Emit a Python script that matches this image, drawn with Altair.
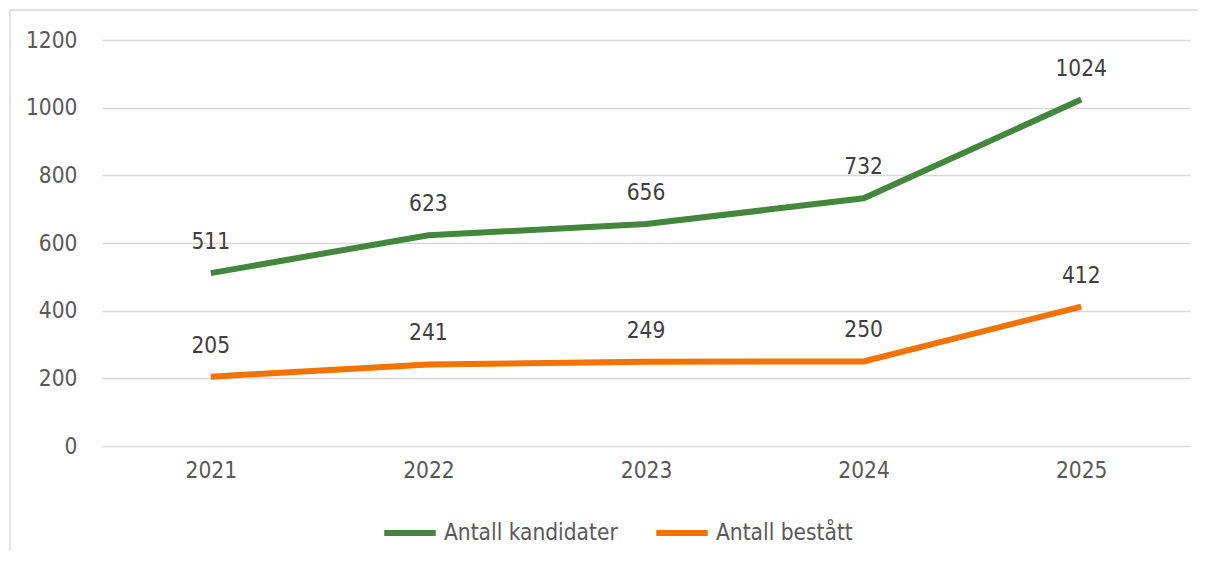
import altair as alt
import pandas as pd

years = ["2021", "2022", "2023", "2024", "2025"]
kandidater = [511, 623, 656, 732, 1024]
bestatt = [205, 241, 249, 250, 412]
series_names = ["Antall kandidater", "Antall bestått"]
colors = ["#43873D", "#F47200"]
y_ticks = [0, 200, 400, 600, 800, 1000, 1200]

rows = []
for name, vals in zip(series_names, [kandidater, bestatt]):
    for yr, v in zip(years, vals):
        rows.append({"År": yr, "Serie": name, "Verdi": v})
df = pd.DataFrame(rows)

FONT = "DejaVu Sans Condensed, DejaVu Sans"
FS = 22.5

x_enc = alt.X("År:O", sort=years,
              scale=alt.Scale(type="point", padding=0.5),
              axis=alt.Axis(title=None, labelAngle=0, ticks=False, domain=False,
                            labelFontSize=FS, labelColor="#595959", labelFont=FONT,
                            labelPadding=13, grid=False))
y_enc = alt.Y("Verdi:Q", scale=alt.Scale(domain=[0, 1200], nice=False),
              axis=alt.Axis(title=None, values=y_ticks, format="d", ticks=False,
                            domain=False, labelFontSize=FS, labelColor="#595959",
                            labelFont=FONT, labelPadding=25, grid=True,
                            gridColor="#D9D9D9", gridWidth=1.4))
color_enc = alt.Color("Serie:N", sort=series_names,
                      scale=alt.Scale(domain=series_names, range=colors),
                      legend=alt.Legend(title=None, orient="none", direction="horizontal",
                                        legendX=279, legendY=464, padding=0,
                                        symbolType="stroke", symbolSize=2650,
                                        symbolStrokeWidth=6, labelFontSize=FS,
                                        labelFont=FONT, labelColor="#595959",
                                        labelLimit=400, labelOffset=5,
                                        columnPadding=26))

base = alt.Chart(df)
lines = base.mark_line(strokeWidth=6).encode(x=x_enc, y=y_enc, color=color_enc,
                                             detail="Serie:N")
labels = base.mark_text(dy=-31, fontSize=FS, font=FONT, color="#404040",
                        baseline="middle").encode(
    x=alt.X("År:O", sort=years), y="Verdi:Q", text="Verdi:Q")

frame_df = pd.DataFrame({"k": [0]})
frame_left = alt.Chart(frame_df).mark_rule(color="#D9D9D9", strokeWidth=1.5).encode(
    x=alt.value(-92), y=alt.value(-30), y2=alt.value(540))
frame_top = alt.Chart(frame_df).mark_rule(color="#D9D9D9", strokeWidth=1.5).encode(
    x=alt.value(-92), x2=alt.value(1100), y=alt.value(-30))

chart = alt.layer(frame_left, frame_top, lines, labels).properties(
    width=1088, height=406,
    background="white",
    autosize=alt.AutoSizeParams(type="none"),
    padding={"left": 94, "top": 32, "right": 8, "bottom": 105},
).configure_view(stroke=None)

chart.save("out.html", embed_options={"renderer": "svg", "actions": False})
